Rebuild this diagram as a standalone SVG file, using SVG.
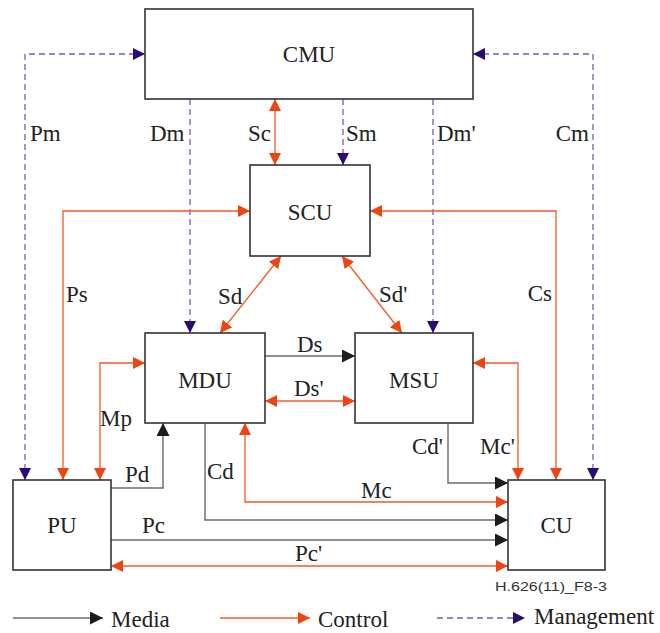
<svg xmlns="http://www.w3.org/2000/svg" width="660" height="633" viewBox="0 0 660 633">
<style>
.box{fill:#fff;stroke:#333;stroke-width:1.6}
.t{font-size:23px;fill:#222}
.c{text-anchor:middle}
.e{text-anchor:end}
.media{fill:none;stroke:#6b6b6b;stroke-width:1.4;marker-end:url(#am)}
.ctrl{fill:none;stroke:#f05a28;stroke-width:1.3;marker-start:url(#ac);marker-end:url(#ac)}
.mgmt{fill:none;stroke:#7a5cab;stroke-width:1.3;stroke-dasharray:6,4}
.cap{font-size:12px;fill:#333}
</style>
<defs>
<marker id="am" markerUnits="userSpaceOnUse" markerWidth="14" markerHeight="14" refX="13" refY="6.5" orient="auto"><path d="M0,0 L13,6.5 L0,13 z" fill="#1c1c1c"/></marker>
<marker id="ac" markerUnits="userSpaceOnUse" markerWidth="14" markerHeight="14" refX="12" refY="6" orient="auto-start-reverse"><path d="M0,0 L12,6 L0,12 z" fill="#ee4411"/></marker>
<marker id="ag" markerUnits="userSpaceOnUse" markerWidth="14" markerHeight="14" refX="12" refY="6" orient="auto-start-reverse"><path d="M0,0 L12,6 L0,12 z" fill="#2b0a73"/></marker>
</defs>
<g id="connectors">
<path class="mgmt" d="M145,54 H25 V480" marker-start="url(#ag)" marker-end="url(#ag)"/>
<path class="mgmt" d="M473,54 H593 V480" marker-start="url(#ag)" marker-end="url(#ag)"/>
<path class="mgmt" d="M190,99 V333" marker-end="url(#ag)"/>
<path class="mgmt" d="M343,99 V165" marker-end="url(#ag)"/>
<path class="mgmt" d="M433,99 V333" marker-end="url(#ag)"/>
<path class="ctrl" d="M275,99 V165"/>
<path class="ctrl" d="M250,211 H63 V480"/>
<path class="ctrl" d="M370,211 H556 V480"/>
<path class="ctrl" d="M281,256 L220,333"/>
<path class="ctrl" d="M342,256 L402,333"/>
<path class="ctrl" d="M265,401 H355"/>
<path class="ctrl" d="M145,363 H100 V480"/>
<path class="ctrl" d="M473,363 H518 V480"/>
<path class="ctrl" d="M245,423 V502 H508"/>
<path class="ctrl" d="M111,566 H508"/>
<path class="media" d="M265,356 H355"/>
<path class="media" d="M111,488 H163 V423"/>
<path class="media" d="M205,423 V520 H508"/>
<path class="media" d="M448,423 V483 H508"/>
<path class="media" d="M111,540 H508"/>
</g>
<g font-family="Liberation Serif, Times New Roman, DejaVu Serif, serif">
<g id="labels">
<text class="t" x="30" y="141">Pm</text>
<text class="t" x="150" y="141">Dm</text>
<text class="t" x="248" y="141">Sc</text>
<text class="t" x="346" y="141">Sm</text>
<text class="t" x="437" y="141">Dm'</text>
<text class="t e" x="589" y="141">Cm</text>
<text class="t" x="66" y="302">Ps</text>
<text class="t" x="218" y="304">Sd</text>
<text class="t" x="379" y="302">Sd'</text>
<text class="t e" x="552" y="301">Cs</text>
<text class="t" x="297" y="352">Ds</text>
<text class="t" x="294" y="396">Ds'</text>
<text class="t" x="100" y="426">Mp</text>
<text class="t" x="480" y="454">Mc'</text>
<text class="t e" x="443" y="454">Cd'</text>
<text class="t" x="125" y="482">Pd</text>
<text class="t" x="207" y="479">Cd</text>
<text class="t" x="361" y="498">Mc</text>
<text class="t" x="142" y="533">Pc</text>
<text class="t" x="295" y="561">Pc'</text>
</g>
<g id="CMU"><rect class="box" x="145" y="9" width="328" height="90"/><text class="t c" x="309" y="62">CMU</text></g>
<g id="SCU"><rect class="box" x="250" y="165" width="120" height="91"/><text class="t c" x="310" y="220">SCU</text></g>
<g id="MDU"><rect class="box" x="145" y="333" width="120" height="90"/><text class="t c" x="205" y="388">MDU</text></g>
<g id="MSU"><rect class="box" x="355" y="333" width="118" height="90"/><text class="t c" x="414" y="388">MSU</text></g>
<g id="PU"><rect class="box" x="13" y="480" width="98" height="90"/><text class="t c" x="62" y="533">PU</text></g>
<g id="CU"><rect class="box" x="508" y="480" width="97" height="90"/><text class="t c" x="556.5" y="533">CU</text></g>
<g id="legend">
<path d="M13,618 H103" fill="none" stroke="#6b6b6b" stroke-width="1.4" marker-end="url(#am)"/>
<text class="t" x="111" y="627">Media</text>
<path d="M220,618 H310" fill="none" stroke="#f05a28" stroke-width="1.3" marker-end="url(#ac)"/>
<text class="t" x="318" y="627">Control</text>
<path d="M437,618 H525" fill="none" stroke="#7a5cab" stroke-width="1.3" stroke-dasharray="6,4" marker-end="url(#ag)"/>
<text class="t" x="534" y="624">Management</text>
</g>
</g>
<text class="cap" font-family="Liberation Sans, Arial, sans-serif" x="495" y="591" textLength="112" lengthAdjust="spacingAndGlyphs">H.626(11)_F8-3</text>
</svg>
